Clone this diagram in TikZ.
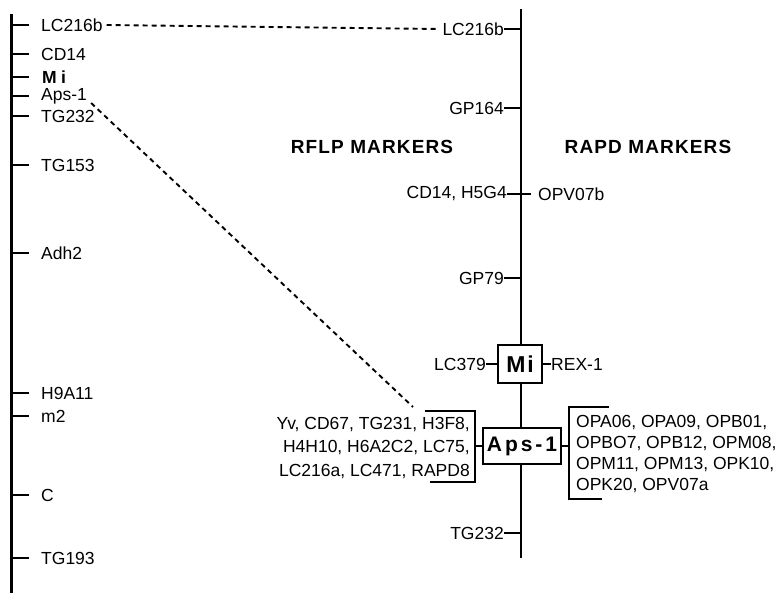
\documentclass[tikz,border=0pt]{standalone}
\usepackage{fontspec}
\setmainfont{Liberation Sans}
\begin{document}
\begin{tikzpicture}[x=1pt,y=-1pt,
  lbl/.style={inner sep=0pt,font=\fontsize{17.5}{20}\selectfont},
  hdr/.style={inner sep=0pt,font=\fontsize{19}{20}\selectfont\bfseries\addfontfeatures{LetterSpace=6}},
  lefttick/.style={line width=2.8pt},
  tick/.style={line width=1.6pt},
  axis/.style={line width=2pt},
  locus/.style={draw,line width=2pt,fill=white,inner sep=0pt},
  brk/.style={line width=1.6pt},
  dsh/.style={line width=1.9pt,dash pattern=on 5pt off 4pt}]
\useasboundingbox (0,0) rectangle (782,596);
% left axis
\coordinate (la1) at (11,14);
\coordinate (la2) at (11,593);
\draw[line width=3pt] (la1) -- (la2);
\foreach \n/\y/\lab in {a/25/LC216b,b/54/CD14,d/96/Aps-1,e/116/TG232,f/165/TG153,g/253/Adh2,h/393/H9A11,i/416/m2,j/495/C,k/558/TG193}{
  \coordinate (lt\n) at (11,\y);
  \node[lbl,anchor=west] (l\n) at (41,\y) {\lab};
  \draw[lefttick] (lt\n) -- ++(18,0);
}
\coordinate (ltc) at (11,77);
\node[lbl,anchor=west,font=\fontsize{17.5}{20}\selectfont\bfseries\addfontfeatures{LetterSpace=25}] (lc) at (42,77) {Mi};
\draw[lefttick] (ltc) -- ++(18,0);
% right axis
\coordinate (ra1) at (521,9);
\coordinate (ra2) at (521,558);
\draw[axis] (ra1) -- (ra2);
% headings
\node[hdr] (h1) at (372,147) {RFLP MARKERS};
\node[hdr] (h2) at (648,147) {RAPD MARKERS};
% right labels
\foreach \n/\y/\lab in {a/29/LC216b,b/108/GP164,d/278/GP79,t/533/TG232}{
  \coordinate (rt\n) at (521,\y);
  \node[lbl,anchor=east] (r\n) at (504,\y) {\lab};
  \draw[tick] (r\n.east) -- (rt\n);
}
\node[lbl,anchor=east] (rc) at (507,194) {CD14, H5G4};
\node[lbl,anchor=west] (rc2) at (538,194) {OPV07b};
\draw[tick] (rc.east) -- (531,194);
% Mi box
\node[locus,minimum width=44pt,minimum height=38pt,font=\fontsize{23}{25}\selectfont\bfseries\addfontfeatures{LetterSpace=8}] (mi) at (520,364) {Mi};
\node[lbl,anchor=east] (lc379) at (486,364) {LC379};
\node[lbl,anchor=west] (rex) at (551,364) {REX-1};
\draw[tick] (lc379.east) -- (mi.west);
\draw[tick] (mi.east) -- (rex.west);
% Aps-1 box
\node[locus,minimum width=78pt,minimum height=36pt,font=\fontsize{21}{25}\selectfont\bfseries\addfontfeatures{LetterSpace=14}] (aps) at (522,446) {Aps-1};
% left bracket
\coordinate (b1) at (425,411);
\coordinate (b2) at (475,411);
\coordinate (b3) at (475,482);
\coordinate (b4) at (430,482);
\coordinate (bm) at (475,446);
\draw[brk] (b1) -- (b2) -- (b3) -- (b4);
\draw[tick] (bm) -- (aps.west);
\node[lbl,anchor=east,align=right,font=\fontsize{17.5}{23.5}\selectfont] (rflp) at (470,448) {Yv, CD67, TG231, H3F8,\\H4H10, H6A2C2, LC75,\\LC216a, LC471, RAPD8};
% right bracket
\coordinate (c1) at (609,407);
\coordinate (c2) at (569,407);
\coordinate (c3) at (569,499);
\coordinate (c4) at (602,499);
\coordinate (cm) at (569,446);
\draw[brk] (c1) -- (c2) -- (c3) -- (c4);
\draw[tick] (aps.east) -- (cm);
\node[lbl,anchor=west,align=left,font=\fontsize{17.5}{21}\selectfont] (rapd) at (576,454) {OPA06, OPA09, OPB01,\\OPBO7, OPB12, OPM08,\\OPM11, OPM13, OPK10,\\OPK20, OPV07a};
% dashed connectors
\draw[dsh] ([xshift=4pt]la.east) -- ([xshift=-3pt]ra.west);
\coordinate (de) at (413,407);
\draw[dsh] ([xshift=4pt,yshift=-7pt]ld.east) -- (de);
\end{tikzpicture}
\end{document}
